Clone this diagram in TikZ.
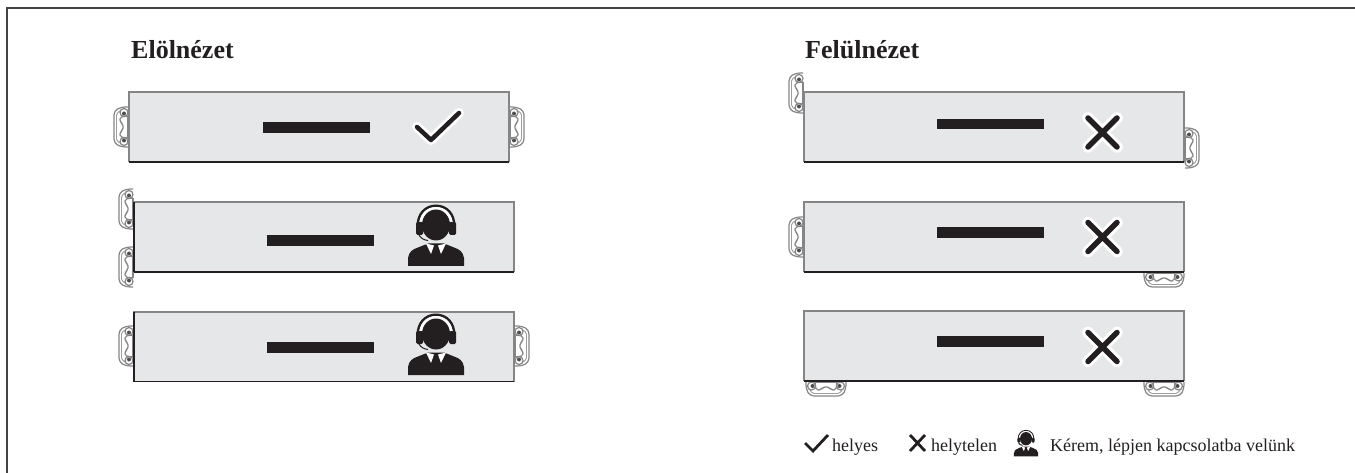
\documentclass[tikz,border=0pt]{standalone}
\usepackage{fontspec}
\setmainfont{Liberation Serif}
\definecolor{ink}{HTML}{231F20}
\definecolor{panelfill}{HTML}{E6E7E8}
\definecolor{edgegrey}{HTML}{858585}
\tikzset{
  x=1pt,y=-1pt,
  panel/.style={fill=panelfill,draw=none,minimum width=380pt,minimum height=70pt,inner sep=0pt,outer sep=0pt},
  greyedge/.style={draw=edgegrey,line width=2pt},
  darkedge/.style={draw=ink,line width=1.3pt},
  bar/.style={fill=ink,draw=none,minimum width=107pt,minimum height=10.5pt,inner sep=0pt,outer sep=0pt},
  title/.style={font=\fontsize{26}{30}\selectfont\bfseries,text=ink,anchor=base west,inner sep=0pt},
  legend/.style={font=\fontsize{18}{21}\selectfont,text=ink,anchor=base west,inner sep=0pt},
  halo/.style={draw=white,line width=11.5pt,line cap=round,line join=round},
  pen/.style={draw=ink,line width=5.5pt,line cap=round,line join=round},
  pics/handle/.style={code={
    \draw[draw=edgegrey,line width=1.2pt,line join=round,rounded corners=4pt]
      (-1,-20) -- (-8,-20) -- (-15,-16) -- (-15,16) -- (-8,20) -- (-1,20);
    \draw[draw=edgegrey!80,line width=.9pt,rounded corners=2pt]
      (-7,-17) -- (-12.5,-14) -- (-12.5,14) -- (-7,17);
    \draw[draw=edgegrey,line width=1.2pt,rounded corners=2pt,fill=white]
      (-1,-11) -- (-9,-10) -- (-9,-5) -- (-6,-3) -- (-6,3) -- (-9,5) -- (-9,10) -- (-1,11);
    \fill[edgegrey] (-2,-11) rectangle (0,11);
    \draw[draw=edgegrey,line width=1.2pt,fill=white] (-5,-14.5) circle (4pt);
    \draw[draw=edgegrey,line width=1.2pt,fill=white] (-5,14.5) circle (4pt);
    \fill[ink!80] (-5,-13.5) circle (2pt);
    \fill[ink!80] (-5,13.5) circle (2pt);
  }},
  pics/headset/.style={code={
    % headband
    \fill[ink] (-19.5,-8) .. controls (-20,-22) and (-11,-30.5) .. (0,-30.5)
      .. controls (11,-30.5) and (20,-22) .. (19.5,-8) -- (17,-8)
      .. controls (17.5,-20) and (10,-28) .. (0,-28)
      .. controls (-10,-28) and (-17.5,-20) .. (-17,-8) -- cycle;
    \fill[white] (-17,-8) .. controls (-17.5,-20) and (-10,-28) .. (0,-28)
      .. controls (10,-28) and (17.5,-20) .. (17,-8) -- (13,-4) -- (-13,-4) -- cycle;
    % head
    \fill[ink] (0,-10) ellipse (14pt and 15.5pt);
    % ear cups
    \fill[ink,rounded corners=1.5pt] (-20,-13) rectangle (-13,0);
    \fill[ink,rounded corners=1.5pt] (13,-13) rectangle (20,0);
    % microphone
    \draw[ink,line width=1pt] (-17,0) .. controls (-15,3.5) and (-12,5) .. (-8,5.5);
    % body
    \fill[ink] (-28,31) -- (-28,23) .. controls (-27,17) and (-24,14.5) .. (-18,12.5)
      -- (-8,8.5) -- (8,8.5) -- (18,12.5) .. controls (24,14.5) and (27,17) .. (28,23)
      -- (28,31) -- cycle;
    % collar
    \fill[white] (-10,8.5) -- (-2,10.5) -- (-5,19) -- cycle;
    \fill[white] (10,8.5) -- (2,10.5) -- (5,19) -- cycle;
  }}
}
\newcommand{\panelbox}[4]{%
  \node[panel] (#1) at (#2,#3) {};
  \draw[greyedge] (#1.south west) -- (#1.north west) -- (#1.north east) -- (#1.south east);
  \draw[#4] (#1.south west) -- (#1.north west);
  \draw[darkedge] (#1.south west) -- (#1.south east);
}
\newcommand{\crossmark}[3]{%
  \coordinate (#1a) at (#2-14.5,#3-14.5);
  \coordinate (#1b) at (#2+14.5,#3+14.5);
  \coordinate (#1c) at (#2-14.5,#3+14.5);
  \coordinate (#1d) at (#2+14.5,#3-14.5);
  \draw[halo] (#1a) -- (#1b) (#1c) -- (#1d);
  \draw[pen] (#1a) -- (#1b) (#1c) -- (#1d);
}
\begin{document}
\begin{tikzpicture}
\useasboundingbox (0,0) rectangle (1355,473);
% outer frame
\coordinate (frameA) at (7,473);
\coordinate (frameB) at (7,8);
\coordinate (frameC) at (1355,8);
\draw[draw=ink!85,line width=2pt,line join=miter] (frameA) -- (frameB) -- (frameC);
% titles
\node[title] (t1) at (131,59) {Elölnézet};
\node[title] (t2) at (805,59) {Felülnézet};
% front view
\pic at (129,127) {handle};
\pic[rotate=180] at (509,127) {handle};
\panelbox{a1}{319}{127}{greyedge}
\node[bar] (ba1) at (316.5,127.5) {};
\coordinate (ca) at (417,127); \coordinate (cb) at (431,140); \coordinate (cc) at (459,113);
\draw[halo,line width=10pt] (ca) -- (cb) -- (cc);
\draw[pen,line width=4.5pt] (ca) -- (cb) -- (cc);

\pic at (134,209) {handle};
\pic at (134,267) {handle};
\panelbox{a2}{324}{237}{darkedge}
\node[bar] (ba2) at (320.5,240.5) {};
\pic at (436,235) {headset};

\pic at (134,346) {handle};
\pic[rotate=180] at (514,346) {handle};
\panelbox{a3}{324}{346.5}{darkedge}
\node[bar] (ba3) at (320.5,347.5) {};
\pic at (436,344) {headset};

% top view
\pic at (804,93) {handle};
\pic[rotate=180] at (1184,148) {handle};
\panelbox{b1}{994}{127}{greyedge}
\node[bar] (bb1) at (990.5,124) {};
\crossmark{x1}{1102.5}{132.5}

\pic at (804,237) {handle};
\pic[rotate=90] at (1164,272) {handle};
\panelbox{b2}{994}{237}{greyedge}
\node[bar] (bb2) at (990.5,232.5) {};
\crossmark{x2}{1102.5}{237}

\pic[rotate=90] at (826,381) {handle};
\pic[rotate=90] at (1164,381) {handle};
\panelbox{b3}{994}{346}{greyedge}
\node[bar] (bb3) at (990.5,341.5) {};
\crossmark{x3}{1102.5}{347}

% legend
\coordinate (la) at (805,443); \coordinate (lb) at (813,451); \coordinate (lc) at (828,435);
\draw[draw=ink,line width=2.8pt,line join=miter] (la) -- (lb) -- (lc);
\node[legend] (l1) at (832,451.5) {helyes};
\coordinate (lx1) at (910,435); \coordinate (lx2) at (925,451);
\coordinate (lx3) at (910,451); \coordinate (lx4) at (925,435);
\draw[draw=ink,line width=2.8pt] (lx1) -- (lx2) (lx3) -- (lx4);
\node[legend] (l2) at (931,451.5) {helytelen};
\pic[scale=.43] at (1026,443) {headset};
\node[legend] (l3) at (1050,451.5) {Kérem, lépjen kapcsolatba velünk};
\end{tikzpicture}
\end{document}
